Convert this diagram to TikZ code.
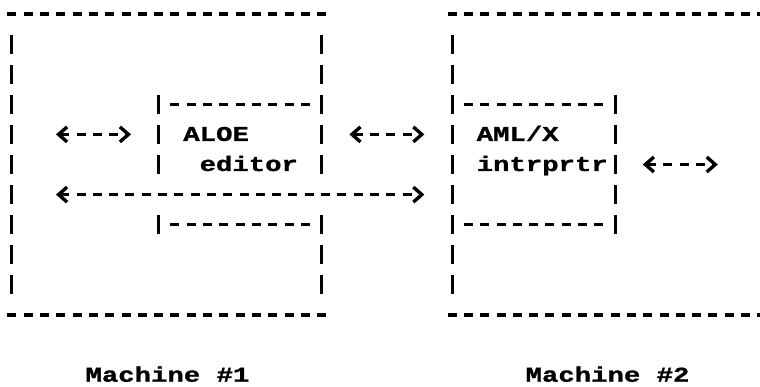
\documentclass[tikz,border=0pt]{standalone}
\usepackage{fontspec}
\setmonofont{Liberation Mono}[FakeStretch=1.3, FakeBold=1.2]
\usetikzlibrary{arrows.meta}
\tikzset{
    dashrow/.style={line width=3.4pt, dash pattern=on 0pt off 3.65pt on 9pt off 3.65pt},
    barcol/.style={line width=3pt, dash pattern=on 0pt off 5.5pt on 19pt off 5.6pt},
    tty/.style={font=\fontsize{21}{25}\selectfont\ttfamily\bfseries, inner sep=0pt, anchor=base west, yshift=-6.5pt},
    chev/.tip={Straight Barb[length=8.5pt, width=15pt, line width=3.4pt]},
    link/.style={line width=3.4pt, dash pattern=on 9pt off 7.3pt, chev-chev}
}

\begin{document}
\begin{tikzpicture}[x=16.3pt, y=-30.1pt]
    \useasboundingbox (-0.736,-0.465) rectangle (45.89,12.39);
    % machine 1
    \draw[dashrow] (-0.5,0) -- (19.5,0);
    \draw[dashrow] (-0.5,10) -- (19.5,10);
    \draw[barcol] (0,0.5) -- (0,9.5);
    \draw[barcol] (19,0.5) -- (19,5.5);
    \draw[barcol] (19,6.5) -- (19,9.5);
    % editor box
    \draw[dashrow] (9.5,3) -- (18.5,3);
    \draw[dashrow] (9.5,7) -- (18.5,7);
    \draw[barcol] (9,2.5) -- (9,5.5);
    \draw[barcol] (9,6.5) -- (9,7.5);
    \node[tty] (aloe) at (10.5,4) {ALOE};
    \node[tty] (editor) at (11.5,5) {editor};
    % machine 2
    \draw[dashrow] (26.5,0) -- (46.5,0);
    \draw[dashrow] (26.5,10) -- (46.5,10);
    \draw[barcol] (27,0.5) -- (27,9.5);
    \draw[barcol] (46,0.5) -- (46,9.5);
    % interpreter box
    \draw[dashrow] (27.5,3) -- (36.5,3);
    \draw[dashrow] (27.5,7) -- (36.5,7);
    \draw[barcol] (37,2.5) -- (37,7.5);
    \node[tty] (aml) at (28.5,4) {AML/X};
    \node[tty] (intrp) at (28.5,5) {intrprtr};
    % links
    \coordinate (usr1) at (2.7,4);
    \coordinate (ed1) at (7.3,4);
    \coordinate (ed2) at (20.7,4);
    \coordinate (int1) at (25.3,4);
    \coordinate (int2) at (38.7,5);
    \coordinate (usr2) at (43.3,5);
    \coordinate (sock1) at (2.7,6);
    \coordinate (sock2) at (25.3,6);
    \draw[link] (usr1) -- (ed1);
    \draw[link] (ed2) -- (int1);
    \draw[link] (int2) -- (usr2);
    \draw[link] (sock1) -- (sock2);
    \node[tty] (m1) at (4.5,12) {Machine \#1};
    \node[tty] (m2) at (31.5,12) {Machine \#2};
\end{tikzpicture}
\end{document}
